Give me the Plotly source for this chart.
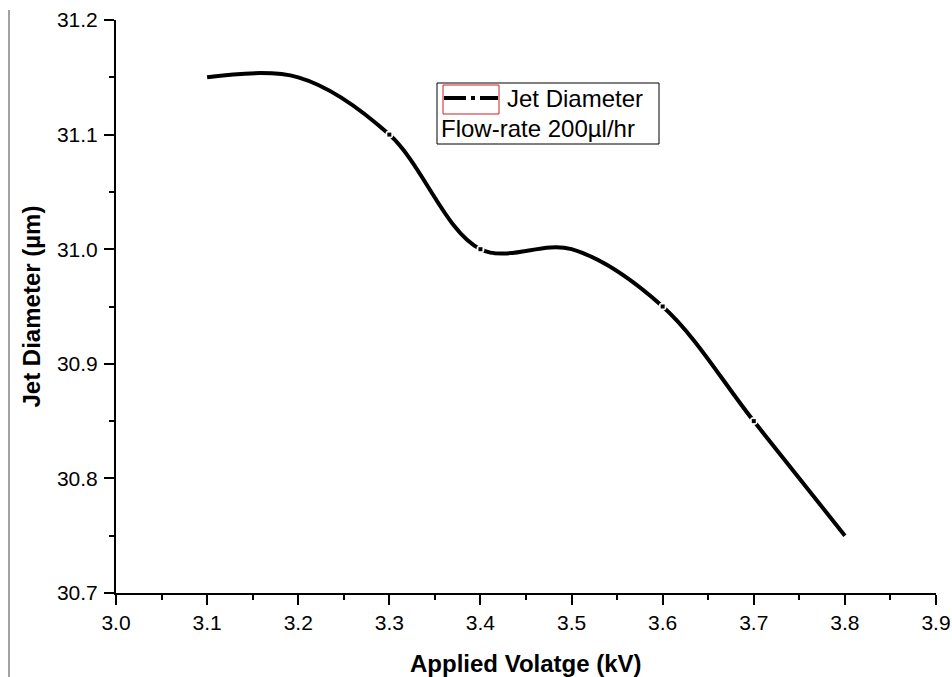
import plotly.graph_objects as go

voltage = [3.1, 3.2, 3.3, 3.4, 3.5, 3.6, 3.7, 3.8]
diameter = [31.15, 31.15, 31.10, 31.00, 31.00, 30.95, 30.85, 30.75]
gap_idx = [2, 3, 5, 6]

x_ticks = [3.0, 3.1, 3.2, 3.3, 3.4, 3.5, 3.6, 3.7, 3.8, 3.9]
y_ticks = [30.7, 30.8, 30.9, 31.0, 31.1, 31.2]

x_title = "Applied Volatge (kV)"
y_title = "Jet Diameter (µm)"
legend_name = "Jet Diameter"
legend_note = "Flow-rate 200µl/hr"

FONT = "Liberation Sans, Arial, sans-serif"

L, R, T, B = 116, 16, 20, 84
W, H = 952, 677
pw, ph = W - L - R, H - T - B

def px(x):
    return (x - L) / pw

def py(y):
    return (H - B - y) / ph

fig = go.Figure()
fig.add_trace(go.Scatter(
    x=voltage, y=diameter, mode="lines",
    line=dict(color="black", width=4, shape="spline", smoothing=1.0),
    showlegend=False, hoverinfo="skip"))
fig.add_trace(go.Scatter(
    x=[voltage[i] for i in gap_idx], y=[diameter[i] for i in gap_idx],
    mode="markers", marker=dict(color="white", size=8, symbol="circle", line=dict(width=0)),
    showlegend=False, hoverinfo="skip"))
fig.add_trace(go.Scatter(
    x=[voltage[i] for i in gap_idx], y=[diameter[i] for i in gap_idx],
    mode="markers", marker=dict(color="black", size=4, symbol="square", line=dict(width=0)),
    showlegend=False, hoverinfo="skip"))

axis_common = dict(
    showline=True, linecolor="black", linewidth=2, mirror=False,
    ticks="outside", ticklen=10, tickwidth=2, tickcolor="black",
    showgrid=False, zeroline=False,
    tickfont=dict(family=FONT, size=21, color="black"),
)

fig.update_xaxes(
    range=[3.0, 3.9], tickvals=x_ticks, ticktext=[f"{v:.1f}" for v in x_ticks],
    minor=dict(dtick=0.05, ticks="outside", ticklen=5, tickwidth=2, tickcolor="black", tick0=3.0),
    **axis_common)
fig.update_yaxes(
    range=[30.7, 31.2], tickvals=y_ticks, ticktext=[f"{v:.1f}" for v in y_ticks],
    minor=dict(dtick=0.05, ticks="outside", ticklen=5, tickwidth=2, tickcolor="black", tick0=30.7),
    ticklabelstandoff=2,
    **axis_common)

shapes = [
    # left border line
    dict(type="line", xref="paper", yref="paper", x0=px(9), x1=px(9), y0=py(10), y1=py(677),
         line=dict(color="#444444", width=1)),
    # legend box
    dict(type="rect", xref="paper", yref="paper", x0=px(437), x1=px(659), y0=py(144), y1=py(83),
         line=dict(color="black", width=1), fillcolor="white"),
    # red symbol frame
    dict(type="rect", xref="paper", yref="paper", x0=px(443), x1=px(499), y0=py(114), y1=py(85),
         line=dict(color="#d02020", width=1)),
    # legend line sample
    dict(type="line", xref="paper", yref="paper", x0=px(444), x1=px(498), y0=py(98), y1=py(98),
         line=dict(color="black", width=4, dash="22px,5px,4px,5px")),
]

annotations = [
    dict(text=legend_name, xref="paper", yref="paper", x=px(505), y=py(98),
         xanchor="left", yanchor="middle", showarrow=False,
         font=dict(family=FONT, size=24, color="black")),
    dict(text=legend_note, xref="paper", yref="paper", x=px(439), y=py(129),
         xanchor="left", yanchor="middle", showarrow=False,
         font=dict(family=FONT, size=24, color="black")),
    dict(text=f"<b>{x_title}</b>", xref="paper", yref="paper", x=0.5, y=py(663),
         xanchor="center", yanchor="middle", showarrow=False,
         font=dict(family=FONT, size=24, color="black")),
    dict(text=f"<b>{y_title}</b>", xref="paper", yref="paper", x=px(31), y=0.5,
         xanchor="center", yanchor="middle", showarrow=False, textangle=-90,
         font=dict(family=FONT, size=24, color="black")),
]

fig.update_layout(
    width=W, height=H,
    margin=dict(l=L, r=R, t=T, b=B, autoexpand=False),
    paper_bgcolor="white", plot_bgcolor="white",
    shapes=shapes, annotations=annotations,
    showlegend=False,
)

fig.write_html("out.html", config={"displayModeBar": False},
               post_script="document.body.style.margin='0';document.body.style.padding='0';")
